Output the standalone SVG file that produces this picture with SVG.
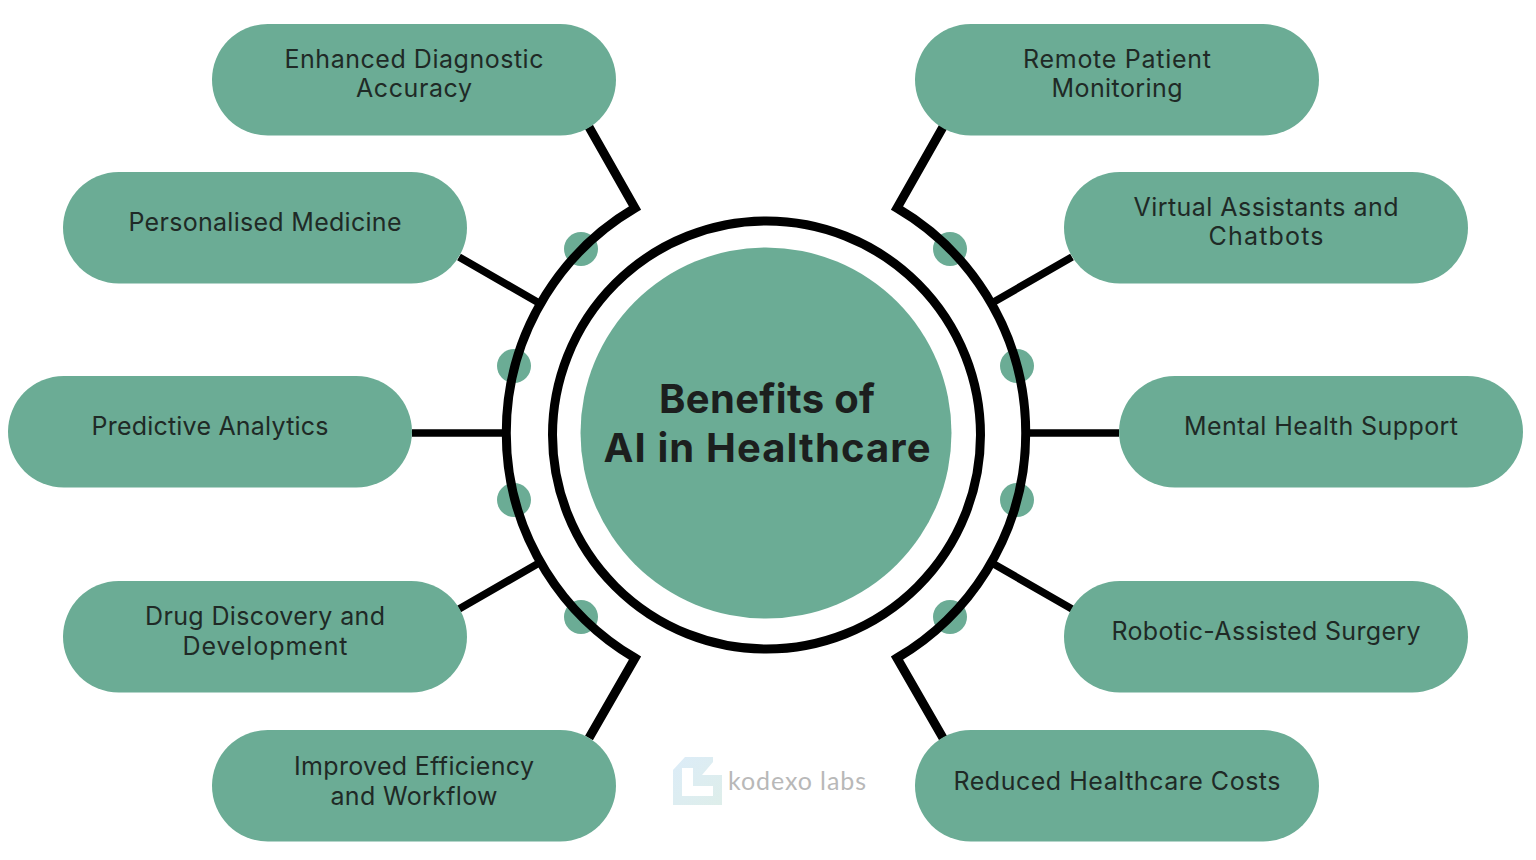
<svg xmlns="http://www.w3.org/2000/svg" width="1536" height="860" viewBox="0 0 1536 860">
<style>
.pill{fill:#6bac95}
.dot{fill:#6bac95}
.t{font-family:"Inter","Liberation Sans",sans-serif;font-size:25px;fill:#1f2a26;text-anchor:middle}
.title{font-family:"Inter","Liberation Sans",sans-serif;font-size:40px;font-weight:700;fill:#1c1f1e;text-anchor:middle}
.ln{fill:none;stroke:#000;stroke-width:9;stroke-linejoin:miter}
.thin{fill:none;stroke:#000;stroke-width:7.500}
</style>
<defs><linearGradient id="lg" x1="0" y1="0" x2="1" y2="1"><stop offset="0" stop-color="#dcecf8"/><stop offset="1" stop-color="#deeeea"/></linearGradient></defs>
<rect width="1536" height="860" fill="#fff"/>
<g id="dots">
<circle class="dot" cx="581" cy="249" r="17"/><circle class="dot" cx="514" cy="366" r="17"/><circle class="dot" cx="514" cy="500" r="17"/><circle class="dot" cx="581" cy="617" r="17"/>
<circle class="dot" cx="950" cy="249" r="17"/><circle class="dot" cx="1017" cy="366" r="17"/><circle class="dot" cx="1017" cy="500" r="17"/><circle class="dot" cx="950" cy="617" r="17"/>
</g>
<g id="connectors">
<path class="ln" d="M589 127L635 208A261 261 0 0 0 635 658L589 738"/>
<path class="ln" d="M943 127L897 208A261 261 0 0 1 897 658L943 738"/>
<path class="thin" d="M459 257L539 303M459 609L539 563M412 433H507M1072 257L992 303M1072 609L992 563M1119 433H1026"/>
<circle class="ln" cx="766.500" cy="435" r="214"/>
</g>
<g id="center"><circle class="pill" cx="766" cy="433" r="185.500"/>
<text class="title" x="767" y="413" textLength="216">Benefits of</text>
<text class="title" x="767" y="462" textLength="327">AI in Healthcare</text></g>
<g id="n1"><rect class="pill" x="212" y="24" width="404" height="111.500" rx="55.750"/><text class="t" x="414" y="68" textLength="259">Enhanced Diagnostic</text><text class="t" x="414" y="97" textLength="116">Accuracy</text></g>
<g id="n2"><rect class="pill" x="63" y="172" width="404" height="111.500" rx="55.750"/><text class="t" x="265" y="231" textLength="273">Personalised Medicine</text></g>
<g id="n3"><rect class="pill" x="8" y="376" width="404" height="111.500" rx="55.750"/><text class="t" x="210" y="435" textLength="237">Predictive Analytics</text></g>
<g id="n4"><rect class="pill" x="63" y="581" width="404" height="111.500" rx="55.750"/><text class="t" x="265" y="625" textLength="240">Drug Discovery and</text><text class="t" x="265" y="655" textLength="165">Development</text></g>
<g id="n5"><rect class="pill" x="212" y="730" width="404" height="111.500" rx="55.750"/><text class="t" x="414" y="775" textLength="240">Improved Efficiency</text><text class="t" x="414" y="805" textLength="167">and Workflow</text></g>
<g id="n6"><rect class="pill" x="915" y="24" width="404" height="111.500" rx="55.750"/><text class="t" x="1117" y="68" textLength="188">Remote Patient</text><text class="t" x="1117" y="97" textLength="131">Monitoring</text></g>
<g id="n7"><rect class="pill" x="1064" y="172" width="404" height="111.500" rx="55.750"/><text class="t" x="1266" y="216" textLength="265">Virtual Assistants and</text><text class="t" x="1266" y="245" textLength="115">Chatbots</text></g>
<g id="n8"><rect class="pill" x="1119" y="376" width="404" height="111.500" rx="55.750"/><text class="t" x="1321" y="435" textLength="274">Mental Health Support</text></g>
<g id="n9"><rect class="pill" x="1064" y="581" width="404" height="111.500" rx="55.750"/><text class="t" x="1266" y="640" textLength="309">Robotic-Assisted Surgery</text></g>
<g id="n10"><rect class="pill" x="915" y="730" width="404" height="111.500" rx="55.750"/><text class="t" x="1117" y="790" textLength="327">Reduced Healthcare Costs</text></g>
<g id="logo">
<path fill="url(#lg)" fill-rule="evenodd" d="M673 770L685 757H713V762L702 775H722V805H673ZM682 768V796H713V786H693V768Z"/>
<text x="797" y="790" font-family="Lato,'Liberation Sans',sans-serif" font-size="25" fill="#b8b8b8" text-anchor="middle" textLength="138">kodexo labs</text>
</g>
</svg>
